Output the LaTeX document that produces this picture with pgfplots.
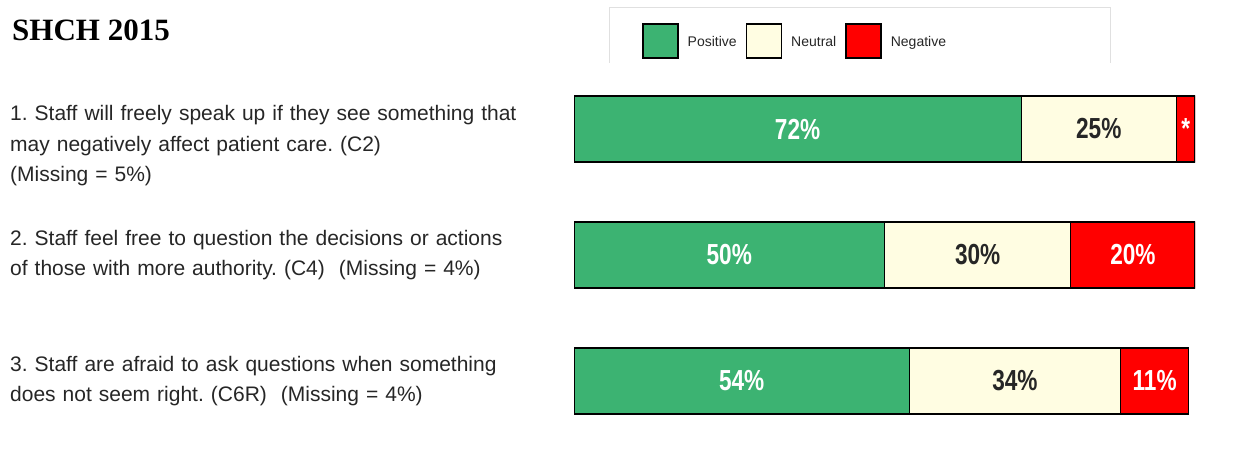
\documentclass[border=0pt]{standalone}
\usepackage{fontspec}
\setmainfont{Liberation Sans}
\newfontfamily\titlefont{Liberation Serif}
\newfontfamily\qfont{Liberation Sans}
\newfontfamily\barfont[FakeStretch=0.78]{Liberation Sans}
\usepackage{pgfplots}
\pgfplotsset{compat=1.18}
\definecolor{pos}{RGB}{60,179,114}
\definecolor{neu}{RGB}{255,253,226}
\definecolor{neg}{RGB}{255,0,0}
\pgfplotsset{sq legend/.style={legend image code/.code={%
  \draw[##1, draw=black, line width=1.5pt] (0pt,-16pt) rectangle (35pt,18pt);}}}
\frenchspacing

\begin{document}
\begin{tikzpicture}
\path[use as bounding box] (0,0) rectangle (1252pt,-453pt);
\node[anchor=base west, inner sep=0pt, font=\titlefont\bfseries\fontsize{31}{31}\selectfont] at (12pt,-40pt) {SHCH 2015};
% legend frame
\draw[black!12, line width=0.8pt] (609pt,-63pt) -- (609pt,-7pt) -- (1110pt,-7pt) -- (1110pt,-63pt);
\begin{axis}[
  at={(574pt,-444pt)}, anchor=south west,
  scale only axis, width=621pt, height=378pt,
  xbar stacked, bar width=66pt,
  xmin=0, xmax=100, ymin=0.5, ymax=3.5,
  axis line style={draw=none},
  xtick=\empty, ytick={1,2,3},
  major tick length=0pt,
  yticklabels={
    {3. Staff are afraid to ask questions when something\\does not seem right. (C6R)\ \ (Missing = 4\%)},
    {2. Staff feel free to question the decisions or actions\\of those with more authority. (C4)\ \ (Missing = 4\%)},
    {\rule{0pt}{18pt}\\1. Staff will freely speak up if they see something that\\may negatively affect patient care. (C2)\\(Missing = 5\%)}},
  yticklabel style={anchor=west, inner sep=0pt, xshift=-564pt, text width=560pt,
    align=left, font=\qfont\fontsize{21}{30.5}\selectfont, text=black!85},
  legend columns=3,
  legend style={at={(0.1095,1.1138)}, anchor=north west, draw=none, fill=none,
    inner sep=0pt, font=\fontsize{14}{14}\selectfont, text=black!85,
    /tikz/every odd column/.style={column sep=7pt},
    /tikz/every even column/.style={column sep=7pt}},
  point meta=explicit symbolic,
  nodes near coords={\pgfplotspointmeta},
  every node near coord/.append style={font=\barfont\bfseries\fontsize{29}{29}\selectfont},
]
\addplot[fill=pos, draw=black, line width=1.2pt, sq legend,
  every node near coord/.append style={text=white}]
  coordinates {(72,3) [72\%] (50,2) [50\%] (54,1) [54\%]};
\addplot[fill=neu, draw=black, line width=1.2pt, sq legend,
  every node near coord/.append style={text=black!85}]
  coordinates {(25,3) [25\%] (30,2) [30\%] (34,1) [34\%]};
\addplot[fill=neg, draw=black, line width=1.2pt, sq legend,
  every node near coord/.append style={text=white}]
  coordinates {(3,3) [*] (20,2) [20\%] (11,1) [11\%]};
\legend{Positive, Neutral, Negative}
\end{axis}
\end{tikzpicture}
\end{document}
